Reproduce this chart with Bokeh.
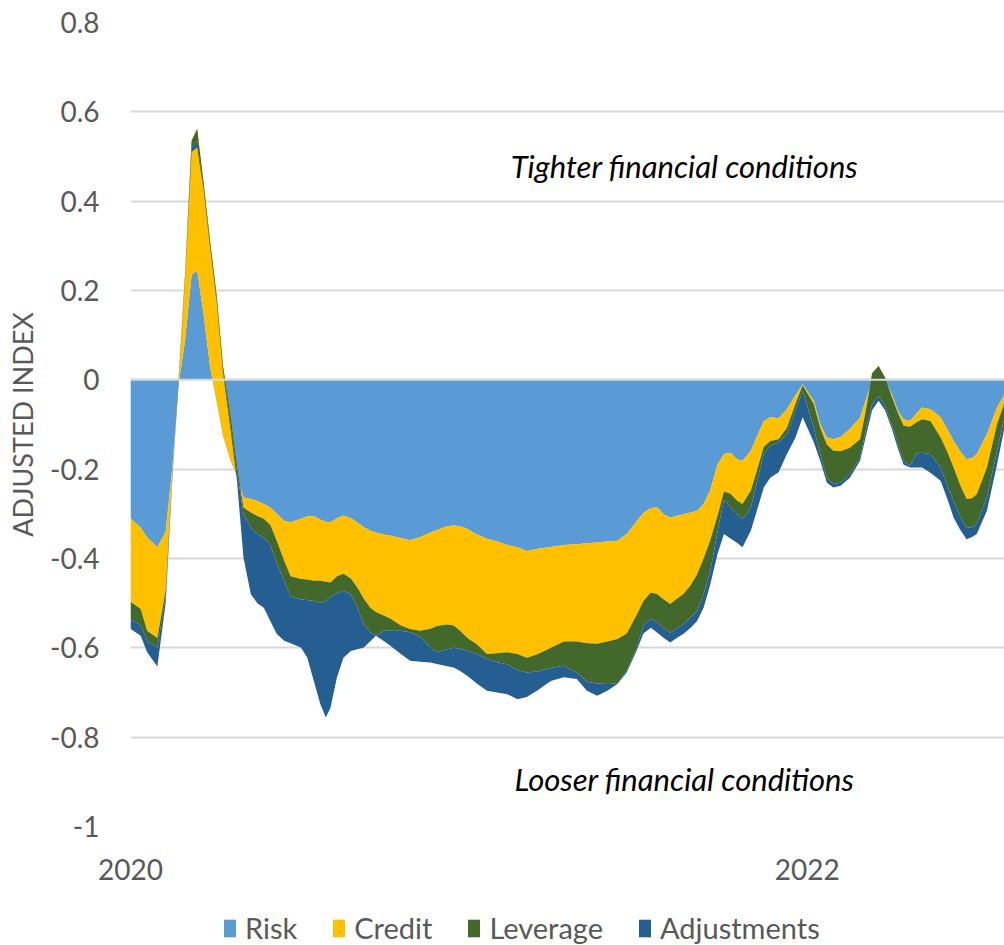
import pandas as pd
from bokeh.plotting import figure
from bokeh.layouts import column
from bokeh.models import (ColumnDataSource, Range1d, FixedTicker, DatetimeTickFormatter,
                          CustomJSTickFormatter, Legend, LegendItem, Label, Span)
from bokeh.embed import file_html
from bokeh.resources import INLINE

# ---- data (days since 2020-01-01, contributions to the adjusted index) ----
days = [0, 11, 18, 29, 38, 45, 52, 59, 66, 72, 79, 86, 93, 100, 108, 115, 122, 130, 137, 144,
        151, 158, 166, 173, 184, 191, 198, 205, 211, 216, 223, 230, 238, 245, 252, 259, 265, 274,
        281, 292, 302, 313, 324, 331, 342, 349, 356, 364, 374, 385, 396, 407, 418, 428, 439, 454,
        468, 482, 493, 504, 515, 526, 536, 547, 554, 562, 569, 576, 583, 590, 597, 605, 612, 619,
        626, 634, 641, 648, 655, 661, 670, 677, 684, 691, 700, 709, 718, 726, 738, 745, 752, 759,
        767, 777, 788, 795, 801, 808, 815, 822, 829, 835, 842, 849, 855, 864, 875, 882, 889, 896,
        903, 909, 914, 925, 936, 944]

risk = [-0.31, -0.331, -0.353, -0.375, -0.34, -0.2, -0.01, 0.09, 0.235, 0.245, 0.147, 0.028,
        -0.047, -0.125, -0.18, -0.215, -0.263, -0.267, -0.271, -0.278, -0.286, -0.3, -0.316,
        -0.319, -0.311, -0.306, -0.305, -0.313, -0.318, -0.319, -0.31, -0.304, -0.31, -0.319,
        -0.33, -0.338, -0.342, -0.347, -0.349, -0.354, -0.359, -0.352, -0.342, -0.336, -0.328,
        -0.326, -0.328, -0.334, -0.346, -0.356, -0.362, -0.37, -0.375, -0.383, -0.379, -0.374,
        -0.37, -0.368, -0.366, -0.364, -0.362, -0.36, -0.345, -0.316, -0.298, -0.287, -0.286,
        -0.301, -0.308, -0.305, -0.301, -0.297, -0.293, -0.278, -0.248, -0.19, -0.166, -0.163,
        -0.178, -0.181, -0.159, -0.125, -0.092, -0.084, -0.086, -0.066, -0.035, -0.01, -0.047,
        -0.099, -0.129, -0.133, -0.128, -0.11, -0.085, -0.04, 0.0, 0.02, 0.0, -0.03, -0.07,
        -0.088, -0.092, -0.075, -0.062, -0.066, -0.084, -0.11, -0.137, -0.16, -0.178, -0.175,
        -0.166, -0.122, -0.062, -0.032]

credit = [-0.187, -0.182, -0.209, -0.203, -0.13, -0.015, 0.014, 0.15, 0.3, 0.317, 0.293, 0.282,
          0.237, 0.155, 0.1, 0.025, -0.023, -0.03, -0.034, -0.033, -0.039, -0.06, -0.089, -0.121,
          -0.135, -0.141, -0.145, -0.137, -0.134, -0.135, -0.13, -0.13, -0.135, -0.146, -0.16,
          -0.172, -0.178, -0.181, -0.186, -0.196, -0.199, -0.21, -0.215, -0.215, -0.22, -0.224,
          -0.234, -0.244, -0.246, -0.258, -0.25, -0.24, -0.239, -0.239, -0.236, -0.226, -0.216,
          -0.218, -0.224, -0.227, -0.224, -0.22, -0.223, -0.209, -0.197, -0.189, -0.194, -0.191,
          -0.194, -0.185, -0.179, -0.163, -0.142, -0.122, -0.112, -0.115, -0.084, -0.092, -0.092,
          -0.097, -0.089, -0.075, -0.058, -0.053, -0.047, -0.041, -0.02, -0.002, -0.007, -0.008,
          -0.015, -0.026, -0.032, -0.042, -0.048, -0.02, 0.015, 0.011, 0.005, -0.006, -0.005,
          -0.015, -0.013, -0.02, -0.026, -0.026, -0.045, -0.05, -0.059, -0.075, -0.089, -0.09,
          -0.09, -0.074, -0.037, -0.019]

leverage = [-0.04, -0.036, -0.022, -0.022, -0.015, -0.007, -0.004, -0.005, -0.015, -0.027, -0.01,
            -0.01, -0.01, -0.01, -0.02, -0.015, -0.014, -0.034, -0.04, -0.042, -0.045, -0.05,
            -0.045, -0.045, -0.046, -0.046, -0.045, -0.049, -0.043, -0.033, -0.038, -0.038, -0.035,
            -0.045, -0.057, -0.055, -0.053, -0.034, -0.027, -0.012, -0.007, -0.013, -0.043, -0.059,
            -0.055, -0.05, -0.04, -0.029, -0.022, -0.011, -0.02, -0.027, -0.036, -0.033, -0.038,
            -0.045, -0.054, -0.069, -0.086, -0.089, -0.095, -0.1, -0.083, -0.074, -0.055, -0.059,
            -0.063, -0.064, -0.064, -0.066, -0.067, -0.072, -0.082, -0.08, -0.07, -0.035, -0.018,
            -0.03, -0.03, -0.034, -0.038, -0.025, -0.015, -0.011, -0.007, -0.015, -0.015, -0.013,
            -0.053, -0.059, -0.075, -0.075, -0.07, -0.059, -0.041, -0.045, -0.07, -0.067, -0.063,
            -0.064, -0.069, -0.079, -0.088, -0.07, -0.075, -0.074, -0.067, -0.075, -0.075, -0.07,
            -0.064, -0.065, -0.067, -0.067, -0.06, -0.033]

adjustments = [-0.02, -0.024, -0.026, -0.042, -0.015, -0.006, -0.003, -0.005, -0.01, -0.015,
               -0.005, -0.005, -0.005, -0.005, -0.01, -0.021, -0.098, -0.149, -0.155, -0.157,
               -0.17, -0.159, -0.134, -0.105, -0.107, -0.129, -0.179, -0.227, -0.261, -0.247,
               -0.188, -0.15, -0.127, -0.093, -0.052, -0.02, 0.0, -0.023, -0.034, -0.052, -0.064,
               -0.056, -0.033, -0.026, -0.038, -0.044, -0.05, -0.056, -0.066, -0.071, -0.068,
               -0.067, -0.065, -0.055, -0.043, -0.029, -0.026, -0.015, -0.02, -0.027, -0.015,
               -0.001, -0.004, -0.006, -0.018, -0.02, -0.023, -0.022, -0.022, -0.022, -0.022,
               -0.023, -0.023, -0.03, -0.03, -0.05, -0.077, -0.07, -0.065, -0.063, -0.052, -0.065,
               -0.076, -0.071, -0.067, -0.044, -0.06, -0.059, -0.033, -0.015, -0.011, -0.007,
               -0.007, -0.008, -0.007, -0.015, -0.013, -0.011, -0.01, -0.008, -0.011, -0.008,
               -0.003, -0.031, -0.033, -0.042, -0.03, -0.03, -0.037, -0.03, -0.026, -0.022, -0.022,
               -0.03, -0.03, -0.023]

series_names = ["Risk", "Credit", "Leverage", "Adjustments"]
series_colors = ["#5B9BD5", "#FFC000", "#43682B", "#255E91"]
y_ticks = [-1, -0.8, -0.6, -0.4, -0.2, 0, 0.2, 0.4, 0.6, 0.8]
x_tick_dates = ["2020-01-01", "2022-01-01"]
y_title = "ADJUSTED INDEX"
note_top = "Tighter financial conditions"
note_bottom = "Looser financial conditions"

FONT = "Lato"
GREY = "#595959"

start = pd.Timestamp("2020-01-01")
dates = start + pd.to_timedelta(days, unit="D")
src = ColumnDataSource(dict(date=dates, Risk=risk, Credit=credit,
                            Leverage=leverage, Adjustments=adjustments))
xr = Range1d(start, start + pd.Timedelta(days=944))

p = figure(width=1004, height=895, x_axis_type="datetime", output_backend="svg",
           toolbar_location=None, x_range=xr, y_range=Range1d(-1, 0.8),
           min_border_left=130, min_border_right=0, min_border_top=22, min_border_bottom=69)
p.outline_line_color = None
p.background_fill_color = "white"
p.border_fill_color = "white"

rends = p.varea_stack(stackers=series_names, x="date", color=series_colors, source=src)

# zero (horizontal axis) line drawn on top of areas
p.add_layout(Span(location=0, dimension="width", line_color="#D9D9D9", line_width=2,
                  level="overlay"))

# axes
p.yaxis.ticker = FixedTicker(ticks=y_ticks)
p.yaxis.formatter = CustomJSTickFormatter(code="return String(Math.round(tick*10)/10);")
p.ygrid.ticker = FixedTicker(ticks=y_ticks)
p.ygrid.grid_line_color = "#D9D9D9"
p.ygrid.grid_line_width = 2
p.xgrid.visible = False

p.xaxis.ticker = FixedTicker(ticks=[pd.Timestamp(d).value // 10**6 for d in x_tick_dates])
p.xaxis.formatter = DatetimeTickFormatter(years="%Y", months="%Y", days="%Y", hours="%Y",
                                          hourmin="%Y", minutes="%Y", minsec="%Y",
                                          seconds="%Y", milliseconds="%Y", microseconds="%Y")

for ax in (p.xaxis[0], p.yaxis[0]):
    ax.axis_line_color = None
    ax.major_tick_line_color = None
    ax.minor_tick_line_color = None
    ax.major_tick_out = 0
    ax.major_tick_in = 0
    ax.major_label_text_font = FONT
    ax.major_label_text_font_size = "28px"
    ax.major_label_text_color = GREY

p.yaxis.major_label_standoff = 31
p.xaxis.major_label_standoff = 32
p.yaxis.axis_label = y_title
p.yaxis.axis_label_text_font = FONT
p.yaxis.axis_label_text_font_size = "27px"
p.yaxis.axis_label_text_font_style = "normal"
p.yaxis.axis_label_text_color = GREY
p.yaxis.axis_label_standoff = 8

# annotations
for txt, yy in ((note_top, 661), (note_bottom, 48)):
    p.add_layout(Label(x=554, y=yy, x_units="screen", y_units="screen", text=txt,
                       text_font=FONT, text_font_size="31px", text_font_style="italic",
                       text_color="#000000", text_align="center", text_baseline="middle"))

# ---- legend strip below the chart (square keys from hidden copies of the series) ----
pl = figure(width=1004, height=50, output_backend="svg", toolbar_location=None,
            x_range=xr, y_range=Range1d(-1, 0.8), x_axis_type="datetime",
            min_border_left=130, min_border_right=0, min_border_top=0, min_border_bottom=0)
pl.axis.visible = False
pl.grid.visible = False
pl.outline_line_color = None
pl.border_fill_color = "white"
pl.background_fill_color = "white"
leg_rends = []
for name, col in zip(series_names, series_colors):
    r = pl.quad(left="date", right="date", bottom=0, top=name, fill_color=col,
                line_color=None, source=src)
    r.visible = False
    leg_rends.append(r)
legend = Legend(items=[LegendItem(label=n, renderers=[r]) for n, r in zip(series_names, leg_rends)],
                orientation="horizontal", location=(92, 0),
                glyph_width=15, glyph_height=22, label_standoff=8, spacing=34,
                padding=0, margin=0, border_line_color=None, background_fill_alpha=0,
                inactive_fill_alpha=0,
                label_text_font=FONT, label_text_font_size="29px", label_text_color=GREY)
pl.add_layout(legend)

layout = column(p, pl, spacing=0)
open("out.html", "w").write(file_html(layout, INLINE))
